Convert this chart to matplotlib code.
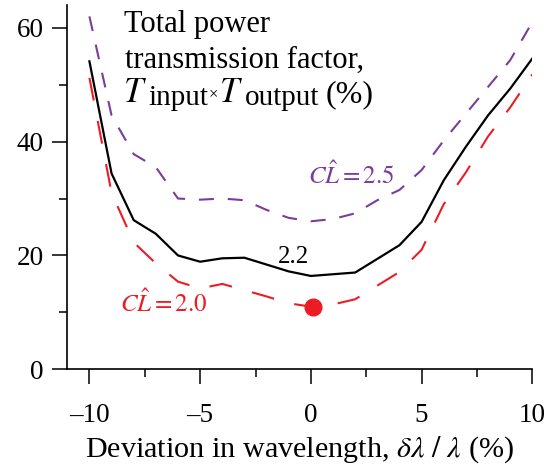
import matplotlib
matplotlib.use("Agg")
import matplotlib.pyplot as plt
from matplotlib.ticker import MultipleLocator

plt.rcParams['font.family'] = ['Liberation Serif', 'DejaVu Serif']
plt.rcParams['mathtext.fontset'] = 'stix'
plt.rcParams['lines.scale_dashes'] = False

# ---- data ----
deviation = [-10, -9, -8, -7, -6, -5, -4, -3, -2, -1, 0, 1, 2, 3, 4, 5, 6, 7, 8, 9, 10]
t_cl22 = [54.1, 34.4, 26.2, 23.8, 20.0, 18.9, 19.5, 19.6, 18.4, 17.2, 16.4, 16.7, 17.0, 19.4, 21.8,
          25.9, 33.2, 39.1, 44.6, 49.3, 54.6]
t_cl25 = [62.0, 44.6, 37.8, 35.5, 30.0, 29.8, 30.0, 29.7, 28.0, 26.6, 26.0, 26.4, 27.4, 29.7, 31.5,
          35.0, 40.2, 44.9, 49.6, 54.3, 61.0]
t_cl20 = [51.2, 31.0, 22.3, 18.6, 15.4, 14.2, 15.0, 13.9, 12.8, 11.6, 11.0, 11.4, 12.3, 14.7, 17.1,
          21.0, 29.0, 34.6, 40.9, 46.0, 51.8]
min_x = [0.1]
min_y = [11.0]

xticks = [-10, -5, 0, 5, 10]
xticklabels = ['\u201310', '\u20135', '0', '5', '10']
yticks = [0, 20, 40, 60]
yticklabels = ['0', '20', '40', '60']

RED = '#ED1C24'
PURPLE = '#7D3C9B'

W, H = 556, 466
fig = plt.figure(figsize=(W / 100, H / 100), dpi=100)
ax = fig.add_axes([0.121, 0.2075, 0.9574 - 0.121, 0.7818])

ax.plot(deviation, t_cl25, color=PURPLE, lw=1.5, linestyle=(0, (10.8, 10.0)))
ax.plot(deviation, t_cl22, color='black', lw=1.6)
ax.plot(deviation, t_cl20, color=RED, lw=1.5, linestyle=(0, (16.6, 15.0)))
ax.plot(min_x, min_y, 'o', color=RED, markersize=12, zorder=5)

ax.set_xlim(-11, 10)
ax.set_ylim(0, 64)
ax.set_xticks(xticks)
ax.set_xticklabels(xticklabels)
ax.set_yticks(yticks)
ax.set_yticklabels(yticklabels)
ax.xaxis.set_minor_locator(MultipleLocator(2.5))
ax.yaxis.set_minor_locator(MultipleLocator(10))
ax.tick_params(which='major', direction='out', length=11, width=1.1, labelsize=19.5)
ax.tick_params(axis='x', which='major', pad=13)
ax.tick_params(axis='y', which='major', pad=6)
ax.tick_params(which='minor', direction='out', length=5.5, width=1.1)
for s in ['top', 'right']:
    ax.spines[s].set_visible(False)
for s in ['left', 'bottom']:
    ax.spines[s].set_linewidth(1.2)

ax.set_xlabel(r'Deviation in wavelength, $\delta\lambda\ /\ \lambda$ (%)', fontsize=21.7, labelpad=5)

ax.text(-8.45, 59.2, 'Total power', fontsize=22, va='baseline', ha='left')
ax.text(-8.38, 53.0, 'transmission factor,', fontsize=22, va='baseline', ha='left')

# third title line built piece by piece (T_input x T_output (%))
renderer = fig.canvas.get_renderer()
x_px, y_px = ax.transData.transform((-8.5, 47.0))
pieces = [
    ('$T$', 25, 0, 0.0),
    ('input', 21, -3, 1.5),
    ('\u00d7', 12, 4, 1.0),
    ('$T$', 25, 0, 1.0),
    ('output', 21, -3, 1.5),
    ('(%)', 23, 0, 6.0),
]
for txt, size, dy, gap in pieces:
    x_px += gap
    t = fig.text(x_px / W, (y_px + dy) / H, txt, fontsize=size, va='baseline', ha='left')
    bb = t.get_window_extent(renderer)
    x_px = bb.x1

ax.text(-0.12, 32.5, r'$C\hat{L} = 2.5$', fontsize=18, color=PURPLE, va='baseline', ha='left')
ax.text(-8.6, 10.1, r'$C\hat{L} = 2.0$', fontsize=18, color=RED, va='baseline', ha='left')
ax.text(-1.48, 18.6, '2.2', fontsize=18, color='black', va='baseline', ha='left')

fig.savefig('out.png', dpi=100)
